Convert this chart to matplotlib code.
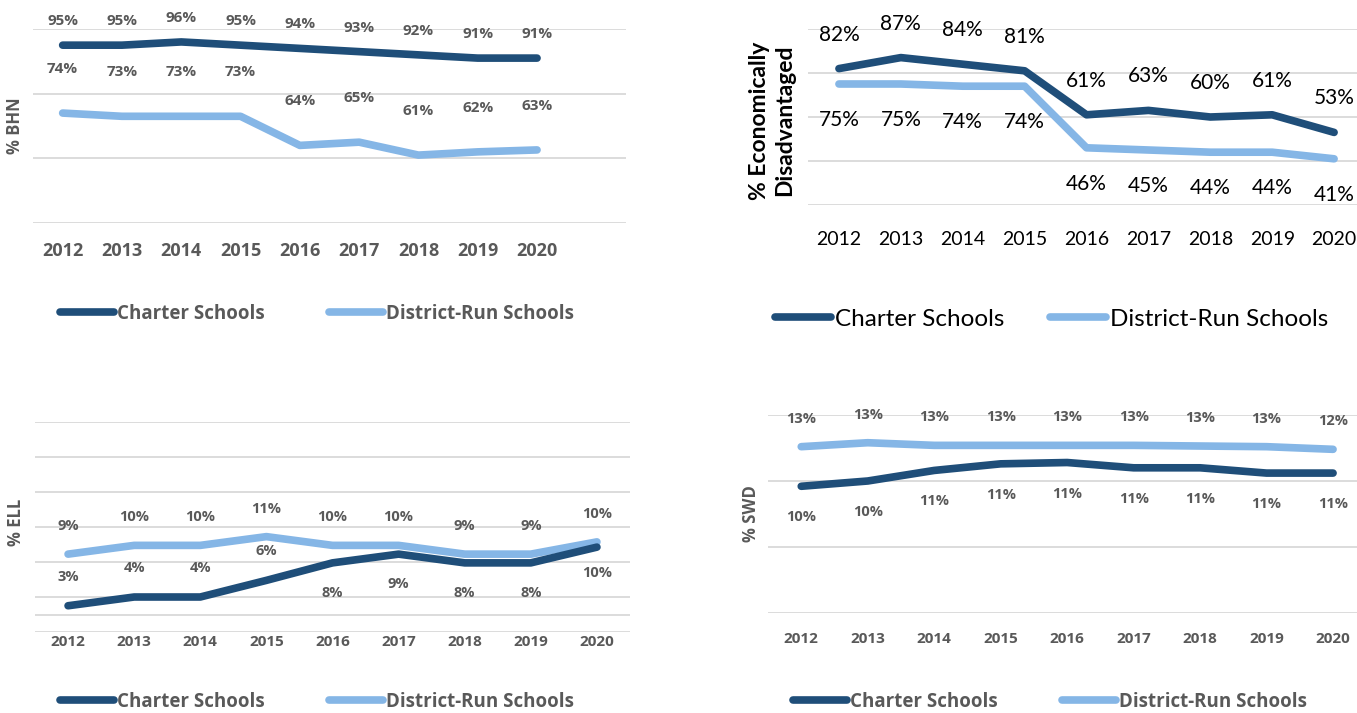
import matplotlib
matplotlib.use('Agg')
import matplotlib.pyplot as plt

years = ['2012', '2013', '2014', '2015', '2016', '2017', '2018', '2019', '2020']
series_names = ['Charter Schools', 'District-Run Schools']

# % Black, Hispanic, Native
bhn_charter = [95, 95, 96, 95, 94, 93, 92, 91, 91]
bhn_district = [74, 73, 73, 73, 64, 65, 61, 62, 62.6]

# % Economically Disadvantaged
econ_charter = [82, 87, 84, 81, 61, 63, 60, 61, 53]
econ_district = [75, 75, 74, 74, 46, 45, 44, 44, 41]

# % English language learners
ell_charter = [3.0, 4.0, 4.0, 5.9, 7.9, 8.9, 7.9, 7.9, 9.7]
ell_district = [8.9, 9.9, 9.9, 10.9, 9.9, 9.9, 8.9, 8.9, 10.3]

# % Students with disabilities
swd_charter = [9.6, 10.0, 10.8, 11.3, 11.4, 11.0, 11.0, 10.6, 10.6]
swd_district = [12.6, 12.9, 12.7, 12.7, 12.7, 12.7, 12.65, 12.6, 12.4]

DARK = '#1F4E79'
LIGHT = '#85B6E6'
GRAY = '#595959'
GRID = '#D9D9D9'

W, H = 1357, 713
fig = plt.figure(figsize=(W / 100, H / 100), dpi=100)


def px_axes(left, top, right, bottom):
    return fig.add_axes([left / W, 1 - bottom / H, (right - left) / W, (bottom - top) / H])


def pct(v):
    return '%d%%' % int(v + 0.5)


def panel(ax, charter, district, ylim, yticks, xlim, offs_c, offs_d,
          font, weight, color, lab_size, tick_size, tick_pad):
    x = list(range(len(years)))
    lc, = ax.plot(x, charter, color=DARK, lw=5.5, solid_capstyle='round',
                  solid_joinstyle='round', clip_on=False, zorder=3)
    ld, = ax.plot(x, district, color=LIGHT, lw=5.5, solid_capstyle='round',
                  solid_joinstyle='round', clip_on=False, zorder=2)
    for i in x:
        ax.annotate(pct(charter[i]), (i, charter[i]), xytext=(0, offs_c[i] * 0.72),
                    textcoords='offset points', ha='center', va='center',
                    fontsize=lab_size, family=font, fontweight=weight, color=color)
        ax.annotate(pct(district[i]), (i, district[i]), xytext=(0, offs_d[i] * 0.72),
                    textcoords='offset points', ha='center', va='center',
                    fontsize=lab_size, family=font, fontweight=weight, color=color)
    ax.set_xlim(*xlim)
    ax.set_ylim(*ylim)
    ax.set_yticks(yticks)
    ax.set_xticks(x, years, fontsize=tick_size, family=font, fontweight=weight, color=color)
    ax.tick_params(axis='x', length=0, pad=tick_pad)
    ax.tick_params(axis='y', left=False, labelleft=False)
    ax.grid(axis='y', color=GRID, lw=1.3)
    ax.set_axisbelow(True)
    for s in ax.spines.values():
        s.set_visible(False)
    return lc, ld


def legend(handles, x, y, font, weight, color, size, hl, cs):
    fig.legend(handles, series_names, loc='center left',
               bbox_to_anchor=(x / W, 1 - y / H), ncol=2, frameon=False,
               borderpad=0, borderaxespad=0, handlelength=hl, handletextpad=0.15,
               columnspacing=cs, labelcolor=color,
               prop={'family': font, 'weight': weight, 'size': size})


# top left: % BHN
ax1 = px_axes(33, 29, 626, 223)
h = panel(ax1, bhn_charter, bhn_district, (40, 100), [40, 60, 80, 100], (-0.5, 9.5),
          [24] * 9, [44] * 9, 'Open Sans', 'bold', GRAY, 11, 13, 14)
ax1.set_ylabel('% BHN', family='Open Sans', fontweight='bold', color=GRAY, fontsize=12)
ax1.yaxis.set_label_coords(-0.015, 0.5)
legend(h, 60, 314, 'Open Sans', 'bold', GRAY, 13.5, 2.9, 3.4)

# top right: % Economically Disadvantaged
ax2 = px_axes(808, 29, 1357, 205)
h = panel(ax2, econ_charter, econ_district, (20, 100), [20, 40, 60, 80, 100], (-0.5, 8.37),
          [34] * 9, [-36] * 9, 'Lato', 'normal', 'black', 15, 14, 19)
ax2.set_ylabel('% Economically\nDisadvantaged', family='Lato', fontweight='bold',
               color='black', fontsize=16.5, linespacing=1.25)
ax2.yaxis.set_label_coords(-0.024, 0.48)
legend(h, 775, 319, 'Lato', 'normal', 'black', 17.5, 2.3, 1.9)

# bottom left: % ELL
ax3 = px_axes(35, 422, 630, 632)
h = panel(ax3, ell_charter, ell_district, (0, 24), [0, 2, 4, 8, 12, 16, 20, 24], (-0.5, 8.5),
          [29, 29, 29, 29, -30, -30, -30, -30, -26], [28] * 9,
          'Open Sans', 'bold', GRAY, 10.5, 11, 2)
ax3.set_ylabel('% ELL', family='Open Sans', fontweight='bold', color=GRAY, fontsize=12)
ax3.yaxis.set_label_coords(-0.017, 0.52)
legend(h, 60, 702, 'Open Sans', 'bold', GRAY, 13.5, 2.9, 3.4)

# bottom right: % SWD
ax4 = px_axes(768, 415, 1357, 613)
h = panel(ax4, swd_charter, swd_district, (0, 15), [0, 5, 10, 15], (-0.5, 8.36),
          [-31] * 9, [28] * 9, 'Open Sans', 'bold', GRAY, 10.5, 11, 14)
ax4.set_ylabel('% SWD', family='Open Sans', fontweight='bold', color=GRAY, fontsize=12)
ax4.yaxis.set_label_coords(-0.014, 0.5)
legend(h, 793, 702, 'Open Sans', 'bold', GRAY, 13.5, 2.9, 3.4)

fig.savefig('out.png', dpi=100)
